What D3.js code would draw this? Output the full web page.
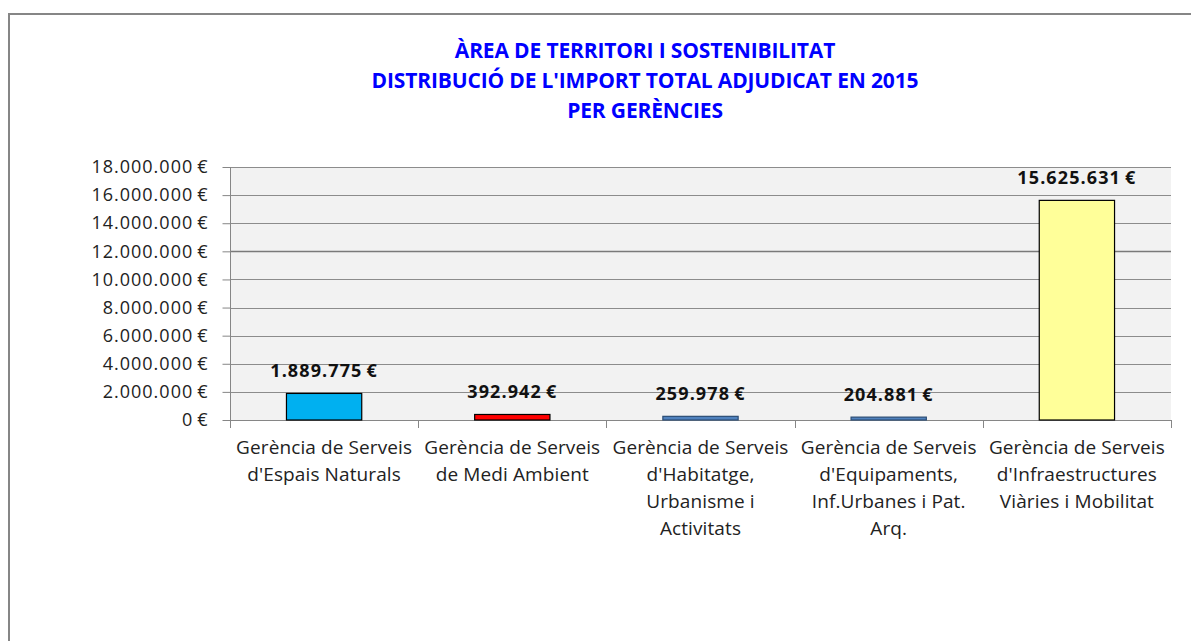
<!DOCTYPE html>
<html>
<head>
<meta charset="utf-8">
<script src="https://cdn.jsdelivr.net/npm/d3@7"></script>
<style>
  body { margin: 0; background: #fff; }
  svg { display: block; font-family: "Open Sans", sans-serif; }
</style>
</head>
<body>
<div id="chart"></div>
<script>
// chart data
const categories = [
  "Gerència de Serveis\nd'Espais Naturals",
  "Gerència de Serveis\nde Medi Ambient",
  "Gerència de Serveis\nd'Habitatge,\nUrbanisme i\nActivitats",
  "Gerència de Serveis\nd'Equipaments,\nInf.Urbanes i Pat.\nArq.",
  "Gerència de Serveis\nd'Infraestructures\nViàries i Mobilitat"
];
const values = [1889775, 392942, 259978, 204881, 15625631];
const barColors = ["#00B0F0", "#FF0000", "#4F81BD", "#4F81BD", "#FFFF99"];
const yTicks = [0, 2e6, 4e6, 6e6, 8e6, 10e6, 12e6, 14e6, 16e6, 18e6];
const titleLines = [
  "ÀREA DE TERRITORI I SOSTENIBILITAT",
  "DISTRIBUCIÓ DE L'IMPORT TOTAL ADJUDICAT EN 2015",
  "PER GERÈNCIES"
];

const W = 1191, H = 641;
const plot = { left: 230, right: 1171, top: 167, bottom: 420 };

const locale = d3.formatLocale({ decimal: ",", thousands: ".", grouping: [3], currency: ["", " €"] });
const euro = v => locale.format(",.0f")(v) + "\u2009€";

const svg = d3.select("#chart").append("svg")
  .attr("width", W).attr("height", H);

// outer frame
svg.append("rect")
  .attr("x", 9).attr("y", 14).attr("width", 1250).attr("height", 700)
  .attr("fill", "#fff").attr("stroke", "#868686").attr("stroke-width", 2);

// title
svg.append("text")
  .attr("x", 645).attr("y", 58)
  .attr("text-anchor", "middle")
  .style("font-weight", "bold").style("font-size", "21px").attr("fill", "#0000FF")
  .selectAll("tspan").data(titleLines).enter().append("tspan")
  .attr("x", 645).attr("dy", (d, i) => i ? 30 : 0)
  .style("letter-spacing", "-0.15px")
  .text(d => d);

const y = d3.scaleLinear().domain([0, 18e6]).range([plot.bottom, plot.top]);
const x = d3.scaleBand().domain(d3.range(categories.length))
  .range([plot.left, plot.right]).paddingInner(0.6).paddingOuter(0.3);

// plot background
svg.append("rect")
  .attr("x", plot.left).attr("y", plot.top)
  .attr("width", plot.right - plot.left).attr("height", plot.bottom - plot.top)
  .attr("fill", "#F2F2F2");

// gridlines
svg.append("g").selectAll("line").data(yTicks.filter(t => t > 0)).enter().append("line")
  .attr("x1", plot.left).attr("x2", plot.right)
  .attr("y1", d => Math.round(y(d)) + 0.5).attr("y2", d => Math.round(y(d)) + 0.5)
  .attr("stroke", d => d === 12e6 ? "#7a7a7a" : "#8c8c8c")
  .attr("stroke-width", d => d === 12e6 ? 1.6 : 1);

// y axis
const yAxis = svg.append("g")
  .attr("transform", `translate(${plot.left + 0.5},0)`)
  .call(d3.axisLeft(y).tickValues(yTicks).tickFormat(euro).tickSize(8).tickPadding(14).tickSizeOuter(0))
  .attr("font-family", null).attr("font-size", null);
yAxis.select(".domain").remove();
yAxis.selectAll("line").attr("stroke", "#868686");
yAxis.selectAll("text").style("font-size", "18px").style("letter-spacing", "1px").attr("fill", "#222");
svg.append("line")
  .attr("x1", plot.left + 0.5).attr("x2", plot.left + 0.5)
  .attr("y1", plot.top).attr("y2", plot.bottom + 8)
  .attr("stroke", "#868686");

// x axis line and category ticks
svg.append("line")
  .attr("x1", plot.left).attr("x2", plot.right)
  .attr("y1", plot.bottom + 0.5).attr("y2", plot.bottom + 0.5)
  .attr("stroke", "#868686");
const half = x.step() / 2;
const bounds = x.domain().map(i => x(i) + x.bandwidth() / 2 - half).concat([plot.right]);
svg.append("g").selectAll("line").data(bounds).enter().append("line")
  .attr("x1", d => Math.round(d) + 0.5).attr("x2", d => Math.round(d) + 0.5)
  .attr("y1", plot.bottom).attr("y2", plot.bottom + 8)
  .attr("stroke", "#868686");

// bars
svg.append("g").selectAll("rect").data(values).enter().append("rect")
  .attr("x", (d, i) => x(i))
  .attr("y", d => y(d))
  .attr("width", x.bandwidth())
  .attr("height", d => y(0) - y(d))
  .attr("fill", (d, i) => barColors[i])
  .attr("stroke", (d, i) => barColors[i] === "#4F81BD" ? "#2c4d75" : "#000")
  .attr("stroke-width", 1.2);

// value labels
svg.append("g").selectAll("text").data(values).enter().append("text")
  .attr("x", (d, i) => x(i) + x.bandwidth() / 2)
  .attr("y", d => y(d) - 16)
  .attr("text-anchor", "middle")
  .style("font-weight", "bold").style("font-size", "18px").attr("fill", "#111")
  .style("letter-spacing", "1.1px")
  .text(d => euro(d));

// category labels
const catText = svg.append("g").selectAll("text").data(categories).enter().append("text")
  .attr("text-anchor", "middle")
  .style("font-size", "19px").style("letter-spacing", "0.1px").attr("fill", "#222");
catText.selectAll("tspan").data((d, i) => d.split("\n").map(s => ({ s, i }))).enter().append("tspan")
  .attr("x", d => x(d.i) + x.bandwidth() / 2)
  .attr("y", (d, j) => plot.bottom + 34 + j * 27)
  .text(d => d.s);
</script>
</body>
</html>
